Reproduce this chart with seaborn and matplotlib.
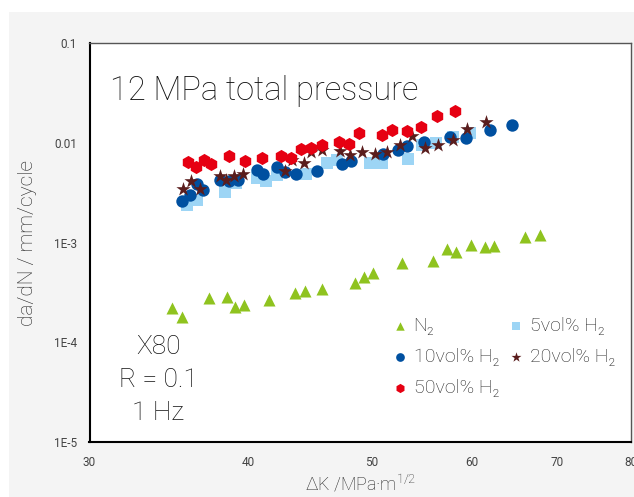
import matplotlib
matplotlib.use("Agg")
import matplotlib.pyplot as plt
import matplotlib.ticker as mticker
from matplotlib.patches import Rectangle
import seaborn as sns
import numpy as np

# crack growth data (dK in MPa m^1/2, da/dN in mm/cycle)
n2_dk = [34.84, 35.47, 37.27, 38.46, 39.08, 39.71, 41.53, 43.55, 44.35, 45.74, 48.57,
         49.34, 50.09, 52.81, 55.84, 57.36, 58.27, 59.87, 61.44, 62.45, 66.02, 67.84]
n2_rate = [0.000219, 0.000181, 0.000275, 0.000284, 0.000227, 0.000239, 0.000268, 0.000314,
           0.000325, 0.000340, 0.000393, 0.000448, 0.000498, 0.000619, 0.000660, 0.000855,
           0.000797, 0.000944, 0.000908, 0.000922, 0.001127, 0.001189]

h5_dk = [35.80, 36.45, 38.35, 39.12, 40.60, 41.30, 42.13, 44.44, 46.13, 47.01, 49.82,
         51.00, 53.37, 54.79, 56.19, 57.90, 59.71]
h5_rate = [0.00238, 0.00267, 0.00321, 0.00395, 0.00440, 0.00413, 0.00475, 0.00486, 0.00622,
           0.00672, 0.00622, 0.00622, 0.00683, 0.00949, 0.00987, 0.01150, 0.01244]

h10_dk = [35.47, 35.99, 36.45, 36.85, 38.00, 38.63, 39.26, 40.63, 41.08, 42.13, 42.75, 43.61,
          45.30, 47.40, 48.17, 51.05, 52.46, 53.32, 54.99, 57.64, 59.33, 61.97, 64.49]
h10_rate = [0.00261, 0.00299, 0.00386, 0.00336, 0.00423, 0.00413, 0.00423, 0.00533, 0.00486,
            0.00571, 0.00509, 0.00486, 0.00521, 0.00612, 0.00656, 0.00771, 0.00846, 0.00928,
            0.01017, 0.01129, 0.01116, 0.01342, 0.01506]

h20_dk = [35.54, 36.06, 36.65, 38.00, 38.42, 39.01, 39.62, 42.71, 43.33, 44.21, 44.81, 45.71,
          47.23, 48.09, 49.15, 50.36, 51.42, 52.60, 53.85, 55.09, 56.40, 57.95, 59.44, 61.52]
h20_rate = [0.00346, 0.00409, 0.00341, 0.00459, 0.00423, 0.00464, 0.00484, 0.00521, 0.00676,
            0.00627, 0.00802, 0.00846, 0.00832, 0.00754, 0.00808, 0.00780, 0.00813, 0.00943,
            0.01169, 0.00886, 0.00943, 0.01073, 0.01358, 0.01626]

h50_dk = [35.86, 36.38, 36.92, 37.39, 38.63, 39.76, 41.00, 42.44, 43.21, 44.00, 44.81, 45.71,
          47.14, 48.00, 48.88, 50.96, 51.89, 53.32, 54.69, 56.30, 58.16]
h50_rate = [0.00641, 0.00571, 0.00671, 0.00612, 0.00736, 0.00656, 0.00703, 0.00736, 0.00703,
            0.00865, 0.00886, 0.00949, 0.01018, 0.00972, 0.01253, 0.01197, 0.01343, 0.01312,
            0.01439, 0.01854, 0.02081]

x_ticks = [30, 40, 50, 60, 70, 80]
y_ticks = [1e-5, 1e-4, 1e-3, 1e-2, 1e-1]
y_ticklabels = ["1E-5", "1E-4", "1E-3", "0.01", "0.1"]

series = [
    ("N\u2082", n2_dk, n2_rate, "#8fc31f", "^", 75),
    ("5vol% H\u2082", h5_dk, h5_rate, "#9dd5f5", "s", 75),
    ("10vol% H\u2082", h10_dk, h10_rate, "#0050a0", "o", 80),
    ("20vol% H\u2082", h20_dk, h20_rate, "#5a1d1d", "*", 115),
    ("50vol% H\u2082", h50_dk, h50_rate, "#e60012", "h", 90),
]

sns.set_style("white")
plt.rcParams["font.family"] = ["Roboto", "DejaVu Sans"]
plt.rcParams["mathtext.fontset"] = "custom"
plt.rcParams["mathtext.rm"] = "Roboto:light"

fig = plt.figure(figsize=(6.34, 4.97), dpi=100)
fig.patch.set_facecolor("white")
fig.patches.append(Rectangle((9 / 634, 0), 1, 1 - 12 / 497, transform=fig.transFigure,
                             facecolor="#f4f4f4", edgecolor="none", zorder=-10))
ax = fig.add_axes([89.5 / 634, 55 / 497, 541.5 / 634, 399 / 497])
ax.set_facecolor("white")

for label, dk, rate, color, marker, size in series:
    sns.scatterplot(x=dk, y=rate, ax=ax, color=color, marker=marker, s=size,
                    linewidth=0, label=label, zorder=3)

ax.set_xscale("log")
ax.set_yscale("log")
ax.set_xlim(30, 80)
ax.set_ylim(1e-5, 0.1)

ax.xaxis.set_major_locator(mticker.FixedLocator(x_ticks))
ax.xaxis.set_major_formatter(mticker.FixedFormatter([str(t) for t in x_ticks]))
minor_x = [a + k * 10 / 9 for a in x_ticks[:-1] for k in range(1, 9)]
ax.xaxis.set_minor_locator(mticker.FixedLocator(minor_x))
ax.xaxis.set_minor_formatter(mticker.NullFormatter())
ax.yaxis.set_major_locator(mticker.FixedLocator(y_ticks))
ax.yaxis.set_major_formatter(mticker.FixedFormatter(y_ticklabels))
ax.yaxis.set_minor_locator(mticker.LogLocator(base=10, subs=np.arange(2, 10)))
ax.yaxis.set_minor_formatter(mticker.NullFormatter())

ax.tick_params(which="both", direction="in", colors="#222222", labelcolor="#444444",
               labelsize=8.5)
ax.tick_params(which="major", length=8, width=1)
ax.tick_params(which="minor", length=3.5, width=0.8)
ax.tick_params(axis="y", pad=9)
ax.tick_params(axis="x", pad=10)

for side in ["left", "bottom"]:
    ax.spines[side].set_color("black")
    ax.spines[side].set_linewidth(1.5)
for side in ["top", "right"]:
    ax.spines[side].set_color("#555555")
    ax.spines[side].set_linewidth(1)

ax.set_xlabel("\u0394K /MPa\u00b7m$^{\\mathrm{1/2}}$", fontsize=13, color="#222222",
              labelpad=3, fontweight="light")
ax.set_ylabel("da/dN / mm/cycle", fontsize=15, color="#222222", labelpad=12,
              fontweight="light")

ax.text(0.038, 0.858, "12 MPa total pressure", transform=ax.transAxes, fontsize=23.5,
        fontweight="light", color="#111111", va="baseline")
for txt, yy in [("X80", 0.238), ("R = 0.1", 0.155), ("1 Hz", 0.073)]:
    ax.text(0.127, yy, txt, transform=ax.transAxes, fontsize=19, fontweight="light",
            color="#111111", ha="center", va="center")

handles, labels = ax.get_legend_handles_labels()
order = [0, 2, 4, 1, 3]
ax.legend([handles[i] for i in order], [labels[i] for i in order], ncol=2,
          loc="center", bbox_to_anchor=(0.765, 0.213), frameon=False,
          markerscale=0.7, handlelength=0.8, handletextpad=0.3, columnspacing=0.5,
          labelspacing=0.65, prop={"weight": "light", "size": 14})

fig.savefig("out.png", dpi=100, facecolor=fig.get_facecolor())
